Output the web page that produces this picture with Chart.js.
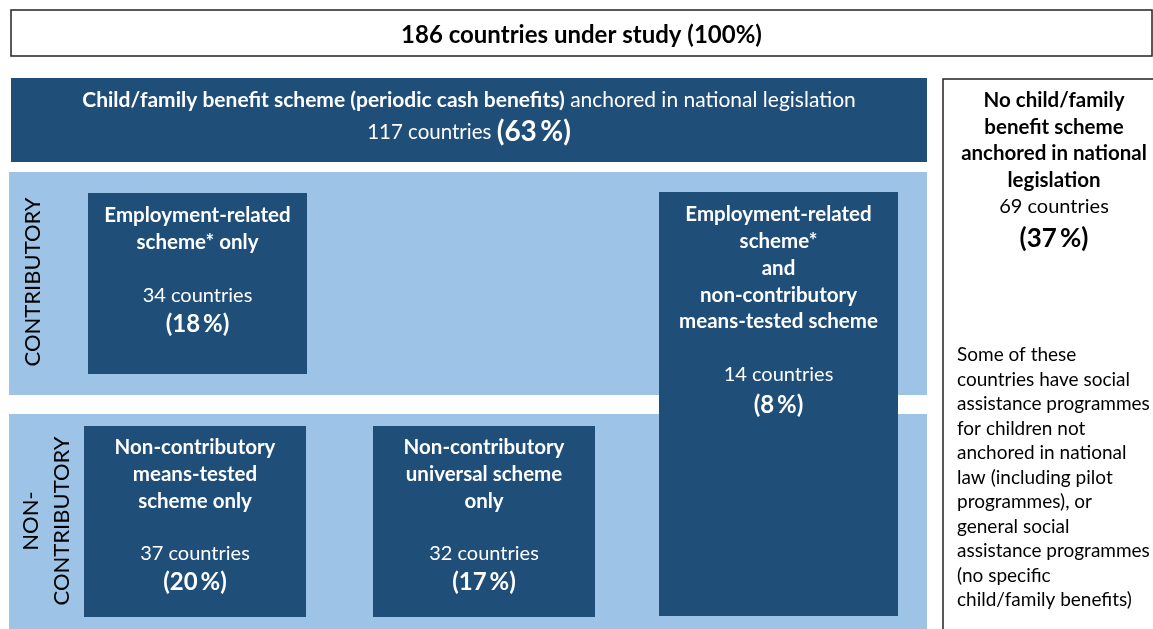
<!DOCTYPE html>
<html>
<head>
<meta charset="utf-8">
<script src="https://cdn.jsdelivr.net/npm/chart.js@4.4.1/dist/chart.umd.min.js"></script>
<style>
  html, body { margin: 0; padding: 0; background: #ffffff; }
  #wrap { width: 1153px; height: 629px; position: relative; }
</style>
</head>
<body>
<div id="wrap"><canvas id="c"></canvas></div>
<script>
// ---- DATA ----
const totalCountries = 186;
const groupKeys    = ['legislated', 'none', 'employmentOnly', 'employmentAndMeans', 'meansOnly', 'universalOnly'];
const groupCounts  = [117, 69, 34, 14, 37, 32];
const groupPercents = [63, 37, 18, 8, 20, 17];
const titleLines = {
  legislated: [[{t:'Child/family benefit scheme (periodic cash benefits)', b:true}, {t:' anchored in national legislation'}]],
  none: ['No child/family', 'benefit scheme', 'anchored in national', 'legislation'],
  employmentOnly: ['Employment-related', 'scheme* only'],
  employmentAndMeans: ['Employment-related', 'scheme*', 'and', 'non-contributory', 'means-tested scheme'],
  meansOnly: ['Non-contributory', 'means-tested', 'scheme only'],
  universalOnly: ['Non-contributory', 'universal scheme', 'only']
};
const bandLabels = [['CONTRIBUTORY'], ['NON-', 'CONTRIBUTORY']];
const noteLines = ['Some of these', 'countries have social', 'assistance programmes', 'for children not',
  'anchored in national', 'law (including pilot', 'programmes), or', 'general social',
  'assistance programmes', '(no specific', 'child/family benefits)'];

// ---- LAYOUT / STYLE (positions in diagram units, not data) ----
const DARK = '#1f4e79', LIGHT = '#9dc3e6', FONT = 'Lato, "Open Sans", sans-serif';
const layout = {
  top:   {r:[11, 10, 1152, 56], cy: 35},
  bands: [{r:[9, 172, 927, 395], cx:[33], cy:282}, {r:[9, 414, 927, 629], cx:[31, 62], cy:521}],
  legislated: {r:[11, 78, 927, 162], lines:[100], countY:132, pctSize:28},
  none: {r:[943, 79, 1170, 640], lines:[100, 127, 153, 180], countY:207, pctY:239, cx:1054, titleSize:20.5, pctSize:26},
  employmentOnly: {r:[88, 193, 307, 374], lines:[215, 242], countY:296, pctY:324},
  employmentAndMeans: {r:[659, 192, 898, 616], lines:[214, 241, 268, 295, 321], countY:375, pctY:405},
  meansOnly: {r:[84, 426, 306, 617], lines:[447, 474, 501], countY:554, pctY:582},
  universalOnly: {r:[373, 426, 595, 617], lines:[447, 474, 501], countY:554, pctY:582},
  note: {x:957, y0:355, dy:24.5}
};

function pctRuns(p, size){ return [{t:'(' + p, b:true, s:size}, {t:'%)', b:true, s:size, gap:size*0.12}]; }

const diagram = {
  id: 'diagram',
  afterDraw(chart) {
    const ctx = chart.ctx, X = chart.scales.x, Y = chart.scales.y;
    const px = v => X.getPixelForValue(v), py = v => Y.getPixelForValue(v);
    const rect = (r, fill, stroke, lw) => {
      const x0 = px(r[0]), y0 = py(r[1]), x1 = px(r[2]), y1 = py(r[3]);
      if (fill) { ctx.fillStyle = fill; ctx.fillRect(x0, y0, x1 - x0, y1 - y0); }
      if (stroke) { ctx.strokeStyle = stroke; ctx.lineWidth = lw; ctx.strokeRect(x0, y0, x1 - x0, y1 - y0); }
    };
    const runs = (list, cx, cy, color, size) => {
      ctx.textBaseline = 'middle';
      let w = 0;
      const fonts = list.map(r => (r.b ? 'bold ' : '') + (r.s || size) + 'px ' + FONT);
      list.forEach((r, i) => { ctx.font = fonts[i]; w += ctx.measureText(r.t).width + (r.gap || 0); });
      let x = px(cx) - w / 2;
      ctx.fillStyle = color; ctx.textAlign = 'left';
      list.forEach((r, i) => { x += (r.gap || 0); ctx.font = fonts[i]; ctx.fillText(r.t, x, py(cy)); x += ctx.measureText(r.t).width; });
    };
    ctx.save();
    // top box
    rect(layout.top.r, '#ffffff', '#222222', 1.5);
    runs([{t: totalCountries + ' countries under study (100%)', b:true}], (layout.top.r[0] + layout.top.r[2]) / 2, layout.top.cy, '#000', 24);
    // bands
    layout.bands.forEach((b, i) => {
      rect(b.r, LIGHT);
      bandLabels[i].forEach((t, j) => {
        ctx.save();
        ctx.translate(px(b.cx[j]), py(b.cy));
        ctx.rotate(-Math.PI / 2);
        ctx.font = '22px ' + FONT; ctx.fillStyle = '#000'; ctx.textAlign = 'center'; ctx.textBaseline = 'middle';
        ctx.fillText(t, 0, 0);
        ctx.restore();
      });
    });
    // groups
    groupKeys.forEach((k, i) => {
      const L = layout[k];
      const dark = k !== 'none';
      if (dark) rect(L.r, DARK); else rect(L.r, '#ffffff', '#222222', 1.5);
      const color = dark ? '#ffffff' : '#000000';
      const cx = L.cx || (L.r[0] + L.r[2]) / 2;
      const ts = L.titleSize || 20.5;
      titleLines[k].forEach((ln, j) => {
        const list = Array.isArray(ln) ? ln : [{t: ln, b: true}];
        runs(list, cx, L.lines[j], color, k === 'legislated' ? 21 : ts);
      });
      if (k === 'legislated') {
        runs([{t: groupCounts[i] + ' countries '}].concat(pctRuns(groupPercents[i], L.pctSize)), cx, L.countY, color, 20.5);
      } else {
        runs([{t: groupCounts[i] + ' countries'}], cx, L.countY, color, 20);
        runs(pctRuns(groupPercents[i], L.pctSize || 24), cx, L.pctY, color, 24);
      }
    });
    // note
    ctx.font = '19px ' + FONT; ctx.fillStyle = '#000'; ctx.textAlign = 'left'; ctx.textBaseline = 'middle';
    noteLines.forEach((t, j) => ctx.fillText(t, px(layout.note.x), py(layout.note.y0 + j * layout.note.dy)));
    ctx.restore();
  }
};

new Chart(document.getElementById('c'), {
  type: 'scatter',
  data: { datasets: [{ data: [], pointRadius: 0 }] },
  options: {
    responsive: true, maintainAspectRatio: false, animation: false,
    layout: { padding: 0 },
    plugins: { legend: { display: false }, tooltip: { enabled: false } },
    scales: {
      x: { type: 'linear', min: 0, max: 1153, display: false },
      y: { type: 'linear', min: 0, max: 629, reverse: true, display: false }
    }
  },
  plugins: [diagram]
});
</script>
</body>
</html>
